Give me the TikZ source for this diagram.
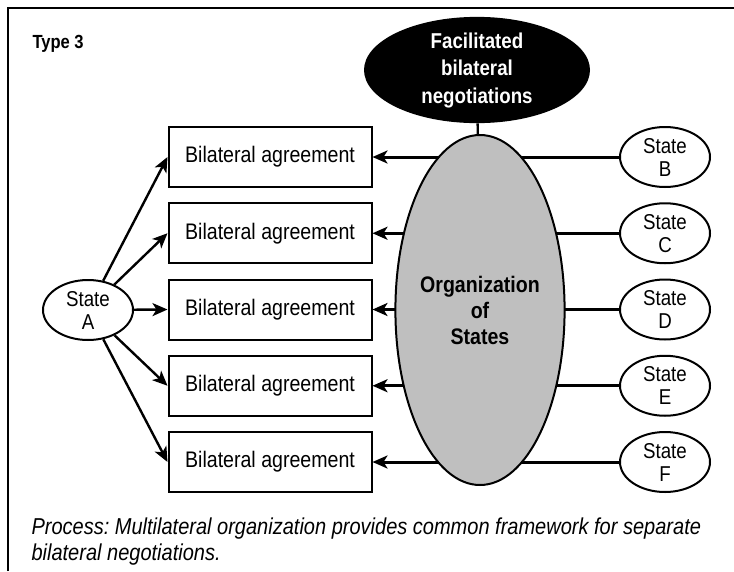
\documentclass[tikz,border=0pt]{standalone}
\usepackage{fontspec}
\setmainfont{Liberation Sans}[FakeStretch=0.87]
\usetikzlibrary{arrows.meta, positioning, shapes.geometric, backgrounds}
\frenchspacing

\begin{document}
\begin{tikzpicture} [x=1pt, y=-1pt, node distance = 76.25pt, on grid,
    agree/.style = {draw, line width=2pt, minimum width=203pt, minimum height=60pt,
                    font=\fontsize{22.5}{25}\selectfont},
    state/.style = {draw, ellipse, line width=2pt, minimum width=90pt, minimum height=60pt,
                    inner sep=0pt, align=center, font=\fontsize{21.5}{23}\selectfont},
    arr/.style   = {-{Stealth[length=15pt, width=13pt, inset=4pt]}}]
    \useasboundingbox (0,0) rectangle (734,571);
    \draw [line width=1.5pt] (8,571) -- (8,8) -- (734,8);

    \node (type) [anchor=west, font=\bfseries\fontsize{19}{21}\selectfont] at (29,44) {Type 3};

    % left column
    \node (sA) [state] at (88,310) {State\\A};
    \node (bB) [agree] at (270,157) {Bilateral agreement};
    \node (bC) [agree, below = of bB] {Bilateral agreement};
    \node (bD) [agree, below = of bC] {Bilateral agreement};
    \node (bE) [agree, below = of bD] {Bilateral agreement};
    \node (bF) [agree, below = of bE] {Bilateral agreement};

    % right column
    \node (sB) [state] at (665,157) {State\\B};
    \node (sC) [state, below = of sB] {State\\C};
    \node (sD) [state, below = of sC] {State\\D};
    \node (sE) [state, below = of sD] {State\\E};
    \node (sF) [state, below = of sE] {State\\F};

    % middle
    \node (org) [draw, ellipse, fill=black!25, line width=2pt, minimum width=140pt,
                 minimum height=350pt, inner sep=0pt, align=center,
                 font=\bfseries\fontsize{22.5}{26}\selectfont] at (480,310) {Organization\\of\\States};
    \node (fbn) [ellipse, fill=black, text=white, minimum width=226pt, minimum height=92pt,
                 inner sep=0pt, align=center,
                 font=\bfseries\fontsize{21.5}{27.5}\selectfont] at (477,70) {Facilitated\\bilateral\\negotiations};

    \draw [line width=2.4pt] (fbn) -- (org);

    \begin{pgfonlayer}{background}
        \foreach \s in {B, C, D, E, F}
            \draw [arr, line width=3pt] (s\s) -- (b\s);
    \end{pgfonlayer}

    \foreach \b in {B, C, D, E, F}
        \draw [arr, line width=2.4pt] (sA) -- (b\b.west);

    \node (proc) [anchor=north west, align=left, font=\itshape\fontsize{23}{26}\selectfont]
        at (28,514) {Process: Multilateral organization provides common framework for separate\\bilateral negotiations.};
\end{tikzpicture}
\end{document}
